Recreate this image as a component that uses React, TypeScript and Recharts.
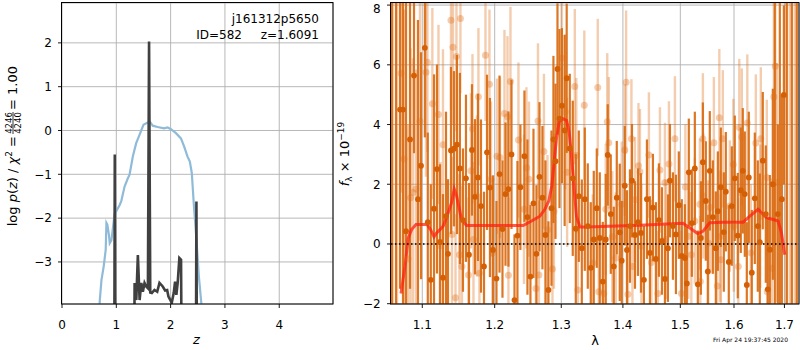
import React from 'react';
import { ComposedChart, Line, Scatter, ErrorBar, XAxis, YAxis, CartesianGrid, ReferenceLine } from 'recharts';

const FONT = 'DejaVu Sans';

// ---- left panel: redshift probability ----
const zTicks = [0, 1, 2, 3, 4];
const pzTicks = [-3, -2, -1, 0, 1, 2];
const zDomain: [number, number] = [0, 4.99];
const pzDomain: [number, number] = [-3.96, 2.91];

const pzCurve: [number, number][] = [
  [0.68, -4.3], [0.696, -3.87], [0.727, -3.41], [0.768, -3.1], [0.805, -2.72], [0.818, -2.11], [0.835, -2.15],
  [0.866, -2.4], [0.879, -2.57], [0.91, -2.5], [0.94, -2.2], [0.97, -1.89], [1.0, -1.84], [1.062, -1.7],
  [1.09, -1.62], [1.152, -1.28], [1.213, -1.09], [1.244, -1.01], [1.305, -0.59], [1.366, -0.29], [1.427, -0.1],
  [1.5, 0.13], [1.579, 0.18], [1.62, 0.2], [1.67, 0.11], [1.76, 0.08], [1.88, 0.05], [1.945, 0.07], [2.006, 0.03],
  [2.098, -0.06], [2.19, -0.18], [2.25, -0.37], [2.31, -0.59], [2.354, -0.71], [2.39, -0.97], [2.43, -1.74],
  [2.476, -2.5], [2.52, -3.33], [2.567, -3.96], [2.6, -4.4],
];

const chi2Curve: [number, number][] = [
  [0.5, -8], [0.958, -8], [0.972, -0.55], [0.988, -8], [1.32, -8], [1.337, -3.48], [1.368, -3.87], [1.397, -2.84],
  [1.429, -3.87], [1.46, -3.48], [1.489, -3.68], [1.52, -3.48], [1.551, -3.56], [1.582, -3.6], [1.603, 2.03],
  [1.625, -3.7], [1.654, -3.71], [1.703, -3.64], [1.753, -3.68], [1.795, -3.48], [1.855, -3.56], [1.899, -3.65],
  [1.936, -3.64], [1.96, -3.79], [1.996, -3.87], [2.02, -3.94], [2.057, -3.71], [2.082, -3.45], [2.106, -3.75],
  [2.13, -3.48], [2.161, -2.91], [2.192, -2.95], [2.215, -8], [2.46, -8], [2.475, -1.62], [2.49, -8], [3.0, -8],
];

// ---- right panel: spectrum ----
const lamTicks = [1.1, 1.2, 1.3, 1.4, 1.5, 1.6, 1.7];
const fluxTicks = [-2, 0, 2, 4, 6, 8];
const lamDomain: [number, number] = [1.0594, 1.73];
const fluxDomain: [number, number] = [-2.01, 8.07];

const modelCurve: [number, number][] = [
  [1.0722, -1.66], [1.0773, -0.75], [1.0816, 0.2], [1.086, 0.48], [1.0917, 0.65], [1.0991, 0.65], [1.1066, 0.65],
  [1.1111, 0.48], [1.1156, 0.24], [1.1191, 0.37], [1.1236, 0.48], [1.1281, 0.6], [1.1349, 1.05], [1.1395, 1.39],
  [1.1431, 1.84], [1.1463, 1.61], [1.1532, 0.82], [1.1601, 0.62], [1.1695, 0.62], [1.2418, 0.62], [1.2544, 0.77],
  [1.267, 0.93], [1.2746, 1.16], [1.2807, 1.44], [1.2853, 1.95], [1.2884, 2.62], [1.2925, 3.52], [1.2967, 4.09],
  [1.3019, 4.2], [1.3082, 4.14], [1.3124, 3.75], [1.3161, 2.96], [1.3198, 1.95], [1.324, 0.93], [1.3293, 0.57],
  [1.34, 0.57], [1.4286, 0.63], [1.5047, 0.69], [1.5168, 0.54], [1.532, 0.34], [1.5417, 0.43], [1.554, 0.71],
  [1.5792, 0.73], [1.6177, 0.73], [1.6307, 0.93], [1.6471, 1.16], [1.657, 0.99], [1.6636, 0.88], [1.677, 0.82],
  [1.6871, 0.77], [1.6939, 0.37], [1.7007, -0.36],
];

// [lambda, flux, error]
const darkSpec: [number, number, number][] = [
  [1.0605, 9.5, 13], [1.0658, 9.5, 13], [1.071, 4.5, 6], [1.0748, 4.5, 6.5], [1.0787, 0.43, 9], [1.0839, 3.5, 5],
  [1.0891, 5.64, 2.6], [1.0943, 1.5, 6], [1.0983, 2.62, 3.8], [1.1034, 6.57, 3.0], [1.1073, 0.73, 3.0],
  [1.1113, -1.2, 3.2], [1.1156, 1.18, 4.5], [1.1196, 2.51, 3.5], [1.1236, 0.07, 2.6], [1.1277, -1.13, 2.8],
  [1.1318, 0.93, 3.5], [1.1345, -0.33, 2.5], [1.1386, 3.13, 2.8], [1.1427, 3.19, 2.6], [1.1468, 3.33, 3.0],
  [1.1509, 2.53, 3.2], [1.1551, 0.8, 2.4], [1.1593, 2.2, 2.8], [1.1635, -0.36, 2.4], [1.1677, 3.15, 2.2],
  [1.1719, 1.58, 2.6], [1.1761, 2.23, 2.8], [1.1804, 1.27, 2.9], [1.1847, -0.75, 2.5], [1.189, 3.07, 2.6],
  [1.1932, 1.89, 3.0], [1.1976, -0.2, 2.5], [1.2026, -1.16, 2.6], [1.207, 2.34, 3.3], [1.2113, 0.5, 2.3],
  [1.2157, 1.67, 2.4], [1.22, 1.84, 2.6], [1.2245, 3.0, 2.5], [1.2289, -1.88, 2.2], [1.2333, 0.28, 2.5],
  [1.2377, 1.9, 2.1], [1.2437, 2.94, 2.2], [1.2482, 0.9, 2.6], [1.2527, -1.09, 2.4], [1.2573, 1.36, 2.5],
  [1.2618, -0.33, 2.3], [1.2664, 2.25, 2.5], [1.2709, 1.55, 2.4], [1.2755, 0.3, 2.5], [1.2801, -1.54, 2.3],
  [1.2848, 1.2, 2.6], [1.2878, 3.5, 2.8], [1.291, 2.77, 2.6], [1.2941, 5.86, 2.2], [1.2972, 4.2, 3.0],
  [1.301, 4.63, 2.6], [1.3053, 3.8, 3.2], [1.3085, 5.55, 2.5], [1.3134, 3.2, 2.5], [1.3181, 2.2, 2.6],
  [1.3229, 0.51, 2.5], [1.3277, 1.6, 2.2], [1.3325, -0.14, 2.3], [1.3373, 1.5, 2.4], [1.3421, 0.6, 2.1],
  [1.3469, -0.8, 2.2], [1.3518, 0.15, 2.3], [1.3567, 1.2, 2.0], [1.3616, 0.2, 2.2], [1.3665, -1.26, 2.0],
  [1.3714, 0.15, 2.2], [1.3747, 2.98, 1.7], [1.3797, 1.0, 2.0], [1.3847, -0.75, 2.0], [1.3897, 1.55, 1.9],
  [1.3947, 0.39, 2.3], [1.398, -0.56, 2.0], [1.4031, 1.95, 2.0], [1.4068, -0.2, 2.0], [1.4119, 0.6, 1.9],
  [1.4153, 2.12, 1.9], [1.4204, 0.3, 1.8], [1.4255, 0.73, 1.8], [1.4307, 0.37, 2.0], [1.4358, -1.2, 1.8],
  [1.441, 1.5, 2.0], [1.4462, -0.3, 1.9], [1.4514, 1.22, 1.8], [1.4566, -0.5, 1.9], [1.4619, 0.8, 1.9],
  [1.4672, 0.1, 1.8], [1.4725, -1.17, 1.8], [1.4778, -0.14, 1.8], [1.4814, 2.12, 1.9], [1.4867, 0.6, 1.8],
  [1.4921, 0.32, 2.0], [1.4973, 1.3, 1.8], [1.5027, -0.4, 1.9], [1.5082, -0.47, 1.8], [1.5118, -1.32, 1.9],
  [1.5154, 2.4, 1.8], [1.5209, 0.7, 1.8], [1.5264, 2.53, 1.9], [1.5319, -1.35, 1.8], [1.5375, 0.2, 1.9],
  [1.5412, 2.74, 2.0], [1.5467, 1.44, 2.0], [1.5504, -0.92, 1.9], [1.5541, 2.45, 2.0], [1.5598, 0.9, 1.9],
  [1.5654, -0.14, 1.9], [1.5692, 1.1, 2.0], [1.5748, 1.9, 2.0], [1.5805, 0.4, 2.0], [1.5843, 1.75, 2.0],
  [1.59, -0.6, 1.9], [1.5958, 1.27, 2.0], [1.6015, 2.2, 2.1], [1.6073, 0.28, 2.1], [1.6131, 1.8, 2.1],
  [1.617, 2.45, 2.1], [1.6209, 1.67, 2.1], [1.6248, -1.37, 2.1], [1.6287, 2.23, 2.2], [1.6346, -0.96, 2.1],
  [1.6405, 1.53, 2.2], [1.6464, 0.6, 2.2], [1.6504, 0.06, 2.3], [1.6563, 2.79, 2.3], [1.6623, 1.0, 2.3],
  [1.6663, -1.52, 2.4], [1.6704, -0.19, 2.5], [1.6764, 2.0, 3.2], [1.6804, 9.5, 13], [1.6865, 1.0, 3.0],
  [1.6906, 9.5, 13], [1.6947, 1.5, 3.5], [1.6988, 4.99, 3.0], [1.7049, 9.5, 13], [1.7152, 9.5, 13], [1.7255, 9.5, 13],
];

const lightSpec: [number, number, number][] = [
  [1.0616, 9.5, 13], [1.0671, 9.5, 13], [1.0722, 5.72, 4], [1.0761, 2.85, 5], [1.0813, -0.5, 4.5], [1.0845, 1.55, 5],
  [1.0878, 1.72, 4.5], [1.0917, 1.84, 4.0], [1.0969, 4.11, 4.0], [1.1049, 5.75, 3.5], [1.1068, 6.09, 3.0],
  [1.1134, 4.7, 3.2], [1.1216, 4.34, 3.0], [1.1243, -0.06, 2.8], [1.1277, 3.32, 3.2], [1.1386, 7.49, 3.0],
  [1.14, 0.32, 2.6], [1.1413, 6.59, 2.6], [1.1448, -1.8, 2.8], [1.1461, 6.28, 2.5], [1.1502, -0.36, 2.7],
  [1.1516, 7.55, 2.5], [1.1537, -0.75, 2.7], [1.1628, -1.04, 2.6], [1.1663, 2.45, 2.6], [1.1684, 3.86, 2.5],
  [1.1698, 0.15, 2.6], [1.1747, 1.61, 2.7], [1.1768, 4.93, 2.3], [1.1782, -0.98, 2.5], [1.1868, 6.32, 2.2],
  [1.1925, 5.35, 2.5], [1.1947, 2.17, 2.6], [1.1969, -0.3, 2.5], [1.2033, 2.94, 2.6], [1.2077, 2.9, 2.7],
  [1.2142, 4.37, 2.8], [1.2186, 4.26, 2.7], [1.22, -1.05, 2.6], [1.223, 5.44, 2.5], [1.2348, 3.48, 2.6],
  [1.243, 1.16, 2.5], [1.2467, 2.55, 2.7], [1.2505, 2.17, 2.6], [1.261, -1.49, 2.4], [1.2641, 4.12, 2.6],
  [1.2656, -1.04, 2.5], [1.2732, 3.1, 2.6], [1.2786, 0.48, 2.5], [1.2863, -0.84, 2.5], [1.2886, 1.1, 2.6],
  [1.301, 6.23, 2.4], [1.306, 4.43, 2.6], [1.3092, 2.4, 2.5], [1.3213, 5.27, 2.6], [1.3237, 2.96, 2.6],
  [1.3261, -1.54, 2.4], [1.3365, 4.65, 2.5], [1.3502, -0.64, 2.3], [1.3583, 5.24, 2.3], [1.3599, -1.6, 2.2],
  [1.3681, -1.66, 2.3], [1.3714, 1.16, 2.2], [1.3739, 4.09, 2.3], [1.3764, 3.39, 2.2], [1.3822, 0.24, 2.2],
  [1.388, -0.47, 2.2], [1.398, 1.33, 2.1], [1.4031, 3.15, 2.2], [1.4054, 5.42, 2.4], [1.4085, -1.68, 2.2],
  [1.4144, 3.52, 2.0], [1.4161, -0.75, 2.1], [1.4204, 1.48, 2.1], [1.4264, 2.62, 2.1], [1.429, 2.42, 2.1],
  [1.4315, -0.08, 2.1], [1.4444, 2.98, 2.1], [1.4487, -0.62, 2.1], [1.4601, -1.66, 2.1], [1.4637, 2.48, 2.1],
  [1.4725, 2.06, 2.0], [1.4743, 0.15, 2.0], [1.4796, 2.68, 2.1], [1.4903, 3.52, 2.1], [1.5018, -1.66, 2.1],
  [1.5091, 1.91, 2.1], [1.5145, 0.26, 2.1], [1.52, -0.36, 2.1], [1.5264, 0.77, 2.1], [1.5356, 1.33, 2.2],
  [1.5365, -1.26, 2.2], [1.5412, 3.52, 2.2], [1.5421, 1.61, 2.1], [1.5513, 0.03, 2.1], [1.5551, 1.22, 2.2],
  [1.5617, 3.39, 2.2], [1.5682, -1.41, 2.2], [1.572, 4.23, 2.3], [1.5739, 0.26, 2.2], [1.5748, -0.53, 2.2],
  [1.5786, 3.52, 2.3], [1.592, 1.27, 2.2], [1.5987, 2.66, 2.2], [1.5996, 0.6, 2.2], [1.6083, -0.75, 2.3],
  [1.6102, 3.9, 2.3], [1.615, 3.58, 2.3], [1.6258, 4.05, 2.3], [1.6326, -0.3, 2.3], [1.6425, 3.38, 2.3],
  [1.6514, 0.93, 2.4], [1.6524, 3.52, 2.4], [1.6643, 2.23, 2.6], [1.6653, -1.6, 2.4], [1.6744, -0.81, 3.0],
  [1.6784, 4.93, 5], [1.6814, 5.95, 6], [1.6845, 2.06, 4], [1.7029, 9.5, 13], [1.711, 9.5, 13], [1.7213, 9.5, 13],
];

const toXY = (arr: [number, number][]) => arr.map(([x, y]) => ({ x, y }));
const toErr = (arr: [number, number, number][]) =>
  arr.map(([x, y, e]) => ({
    x,
    y,
    err: [Math.min(e, y - fluxDomain[0]), Math.min(e, fluxDomain[1] - y)],
  }));

const pzData = toXY(pzCurve);
const chi2Data = toXY(chi2Curve);
const modelData = toXY(modelCurve);
const darkData = toErr(darkSpec);
const lightData = toErr(lightSpec);

const minus = (s: string) => s.replace('-', '\u2212');

const makeXTick = (fmt: (v: number) => string) => (props: any) => (
  <text x={props.x} y={props.y + 18.5} textAnchor="middle" fontSize={12} fontFamily={FONT} fill="#000">
    {minus(fmt(props.payload.value))}
  </text>
);
const makeYTick = (dx: number) => (props: any) => (
  <text x={props.x - dx} y={props.y + 4.3} textAnchor="end" fontSize={12} fontFamily={FONT} fill="#000">
    {minus(String(props.payload.value))}
  </text>
);

const DARK = '#d96a10';
const LIGHT = 'rgba(224,112,26,0.35)';

const darkDot = (p: any) =>
  p.payload.y > fluxDomain[1] ? <g /> : <circle cx={p.cx} cy={p.cy} r={2.9} fill="#d45f05" />;
const lightDot = (p: any) =>
  p.payload.y > fluxDomain[1] ? <g /> : <circle cx={p.cx} cy={p.cy} r={3.5} fill="rgba(224,112,26,0.35)" />;

export default function App() {
  return (
    <div style={{ position: 'absolute', left: 0, top: 0, width: 800, height: 350, background: '#fff' }}>
      <div style={{ position: 'absolute', left: 0, top: 0 }}>
        <ComposedChart width={340} height={350} margin={{ top: 3, right: 7, bottom: 16, left: 0 }}>
          <CartesianGrid stroke="#b0b0b0" strokeWidth={0.9} />
          <XAxis
            type="number"
            dataKey="x"
            domain={zDomain}
            ticks={zTicks}
            allowDataOverflow
            height={30}
            tickSize={4}
            tickMargin={2}
            axisLine={false}
            tickLine={{ stroke: '#000', strokeWidth: 0.9 }}
            tick={makeXTick((v) => String(v))}
          />
          <YAxis
            type="number"
            dataKey="y"
            domain={pzDomain}
            ticks={pzTicks}
            allowDataOverflow
            width={62}
            tickSize={4}
            tickMargin={2}
            axisLine={false}
            tickLine={{ stroke: '#000', strokeWidth: 0.9 }}
            tick={makeYTick(4)}
          />
          <Line data={pzData} dataKey="y" type="linear" stroke="#8fbbd9" strokeWidth={2.2} dot={false} isAnimationActive={false} />
          <Line data={chi2Data} dataKey="y" type="linear" stroke="#404040" strokeWidth={2.6} dot={false} isAnimationActive={false} />
        </ComposedChart>
      </div>
      <div style={{ position: 'absolute', left: 340, top: 0 }}>
        <ComposedChart width={460} height={350} margin={{ top: 3, right: 1, bottom: 16, left: 0 }}>
          <CartesianGrid stroke="#b0b0b0" strokeWidth={0.9} />
          <XAxis
            type="number"
            dataKey="x"
            scale="log"
            domain={lamDomain}
            ticks={lamTicks}
            allowDataOverflow
            height={30}
            tickSize={4}
            tickMargin={2}
            axisLine={false}
            tickLine={{ stroke: '#000', strokeWidth: 0.9 }}
            tick={makeXTick((v) => v.toFixed(1))}
          />
          <YAxis
            type="number"
            dataKey="y"
            domain={fluxDomain}
            ticks={fluxTicks}
            allowDataOverflow
            width={51}
            tickSize={4}
            tickMargin={2}
            axisLine={false}
            tickLine={{ stroke: '#000', strokeWidth: 0.9 }}
            tick={makeYTick(4.3)}
          />
          <Scatter data={lightData} shape={lightDot} isAnimationActive={false}>
            <ErrorBar dataKey="err" direction="y" width={0} stroke={LIGHT} strokeWidth={2.4} isAnimationActive={false} />
          </Scatter>
          <Scatter data={darkData} shape={darkDot} isAnimationActive={false}>
            <ErrorBar dataKey="err" direction="y" width={0} stroke={DARK} strokeOpacity={0.92} strokeWidth={2.2} isAnimationActive={false} />
          </Scatter>
          <Line data={modelData} dataKey="y" type="linear" stroke="#ff2010" strokeOpacity={0.75} strokeWidth={3} dot={false} isAnimationActive={false} />
          <ReferenceLine y={0} stroke="#000" strokeWidth={1.5} strokeDasharray="1.5 2.5" />
        </ComposedChart>
      </div>
      <svg width={800} height={350} style={{ position: 'absolute', left: 0, top: 0, pointerEvents: 'none' }} fontFamily={FONT}>
        <rect x={61.5} y={2.5} width={271.5} height={301.5} fill="none" stroke="#000" strokeWidth={1} />
        <rect x={390.5} y={2.5} width={408.5} height={301.5} fill="none" stroke="#000" strokeWidth={1} />
        <text x={319} y={23} textAnchor="end" fontSize={12} fill="#000">j161312p5650</text>
        <text x={242} y={39} textAnchor="end" fontSize={12} fill="#000">ID=582</text>
        <text x={319} y={39} textAnchor="end" fontSize={12} fill="#000">z=1.6091</text>
        <text x={196.5} y={344} textAnchor="middle" fontSize={13} fontStyle="italic" fill="#000">z</text>
        <text x={595} y={345} textAnchor="middle" fontSize={13} fill="#000">λ</text>
        <text x={788} y={342} textAnchor="end" fontSize={6} fill="#000">Fri Apr 24 19:37:45 2020</text>
        <g transform="translate(17,155) rotate(-90)" fontSize={13} fill="#000">
          <text x={19} y={0} textAnchor="end">
            log <tspan fontStyle="italic">p</tspan>(<tspan fontStyle="italic">z</tspan>) / <tspan fontStyle="italic">χ</tspan>
            <tspan fontSize={9} dy={-5}>2</tspan>
            <tspan dy={5}> =</tspan>
          </text>
          <text x={32} y={-5.5} textAnchor="middle" fontSize={8.5}>4246</text>
          <line x1={21} x2={43} y1={-4} y2={-4} stroke="#000" strokeWidth={0.8} />
          <text x={32} y={4} textAnchor="middle" fontSize={8.5}>4240</text>
          <text x={45} y={0} textAnchor="start">= 1.00</text>
        </g>
        <g transform="translate(349,154) rotate(-90)" fontSize={13} fill="#000">
          <text x={0} y={0} textAnchor="middle">
            <tspan fontStyle="italic">f</tspan>
            <tspan fontSize={9} dy={3}>λ</tspan>
            <tspan dy={-3}> × 10</tspan>
            <tspan fontSize={9} dy={-5}>−19</tspan>
          </text>
        </g>
      </svg>
    </div>
  );
}
